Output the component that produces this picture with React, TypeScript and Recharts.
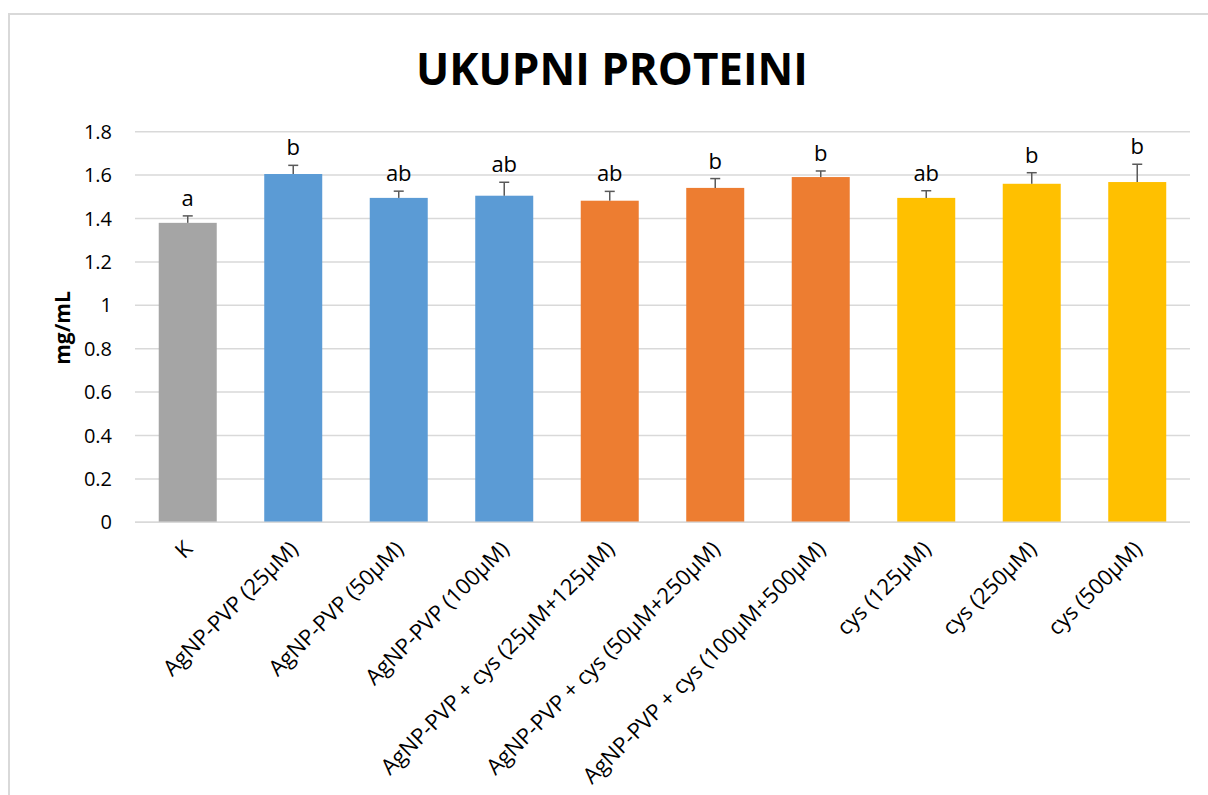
import { BarChart, Bar, XAxis, YAxis, CartesianGrid } from 'recharts';

const categories = [
  'K',
  'AgNP-PVP (25µM)',
  'AgNP-PVP (50µM)',
  'AgNP-PVP (100µM)',
  'AgNP-PVP + cys (25µM+125µM)',
  'AgNP-PVP + cys (50µM+250µM)',
  'AgNP-PVP + cys (100µM+500µM)',
  'cys (125µM)',
  'cys (250µM)',
  'cys (500µM)',
];
const means = [1.38, 1.605, 1.495, 1.505, 1.482, 1.541, 1.591, 1.495, 1.56, 1.568];
const errors = [0.032, 0.04, 0.031, 0.062, 0.043, 0.043, 0.028, 0.033, 0.051, 0.082];
const letters = ['a', 'b', 'ab', 'ab', 'ab', 'b', 'b', 'ab', 'b', 'b'];
const groups = ['ctrl', 'agnp', 'agnp', 'agnp', 'mix', 'mix', 'mix', 'cys', 'cys', 'cys'];
const yTicks = [0, 0.2, 0.4, 0.6, 0.8, 1, 1.2, 1.4, 1.6, 1.8];

const groupColors: Record<string, string> = {
  ctrl: '#a5a5a5',
  agnp: '#5b9bd5',
  mix: '#ed7d31',
  cys: '#ffc000',
};

const FONT = '"Open Sans", "Noto Sans", sans-serif';

const data = categories.map((name, i) => ({
  name,
  value: means[i],
  err: errors[i],
  letter: letters[i],
  group: groups[i],
}));

// bar + plus-only error bar + significance letter
const BarWithError = (props: any) => {
  const { x, y, width, height, payload } = props;
  const ppu = height / payload.value;
  const cx = x + width / 2;
  const errTop = y - payload.err * ppu;
  return (
    <g>
      <rect x={x} y={y} width={width} height={height} fill={groupColors[payload.group]} />
      <line x1={cx} x2={cx} y1={y} y2={errTop} stroke="#595959" strokeWidth={1.5} />
      <line x1={cx - 5} x2={cx + 5} y1={errTop} y2={errTop} stroke="#595959" strokeWidth={1.5} />
      <text x={cx} y={errTop - 10} textAnchor="middle" fontSize={22} fontFamily={FONT} fill="#000">
        {payload.letter}
      </text>
    </g>
  );
};

const CategoryTick = ({ x, y, payload }: any) => (
  <g transform={`translate(${x + 6},${y + 20})`}>
    <text x={0} y={0} textAnchor="end" transform="rotate(-45)" fontSize={22} fontFamily={FONT} fill="#000">
      {payload.value}
    </text>
  </g>
);

export default function App() {
  return (
    <div
      style={{
        position: 'absolute',
        left: 0,
        top: 0,
        width: 1208,
        height: 795,
        overflow: 'hidden',
        background: '#fff',
      }}
    >
      <div
        style={{
          position: 'absolute',
          left: 8,
          top: 13,
          width: 1260,
          height: 860,
          border: '2px solid #d9d9d9',
        }}
      />
      <div
        style={{
          position: 'absolute',
          left: 0,
          top: 38,
          width: 1224,
          textAlign: 'center',
          fontFamily: FONT,
          fontWeight: 700,
          fontSize: 44,
          lineHeight: '60px',
          color: '#000',
        }}
      >
        UKUPNI PROTEINI
      </div>
      <div
        style={{
          position: 'absolute',
          left: 62,
          top: 328,
          transform: 'translate(-50%, -50%) rotate(-90deg)',
          fontFamily: FONT,
          fontWeight: 700,
          fontSize: 21,
          whiteSpace: 'nowrap',
          color: '#000',
        }}
      >
        mg/mL
      </div>
      <div style={{ position: 'absolute', left: 0, top: 0 }}>
        <BarChart
          width={1208}
          height={795}
          data={data}
          margin={{ top: 131.7, right: 18, bottom: 242.7, left: 75 }}
          barCategoryGap="22.5%"
        >
          <CartesianGrid vertical={false} stroke="#d9d9d9" strokeWidth={1.5} />
          <XAxis
            dataKey="name"
            height={30}
            interval={0}
            tickLine={false}
            axisLine={{ stroke: '#d9d9d9', strokeWidth: 1.5 }}
            tick={<CategoryTick />}
          />
          <YAxis
            width={60}
            domain={[0, 1.8]}
            ticks={yTicks}
            axisLine={false}
            tickLine={false}
            tickMargin={17}
            tick={{ fill: '#000', fontSize: 20, fontFamily: FONT }}
          />
          <Bar dataKey="value" shape={<BarWithError />} isAnimationActive={false} />
        </BarChart>
      </div>
    </div>
  );
}
